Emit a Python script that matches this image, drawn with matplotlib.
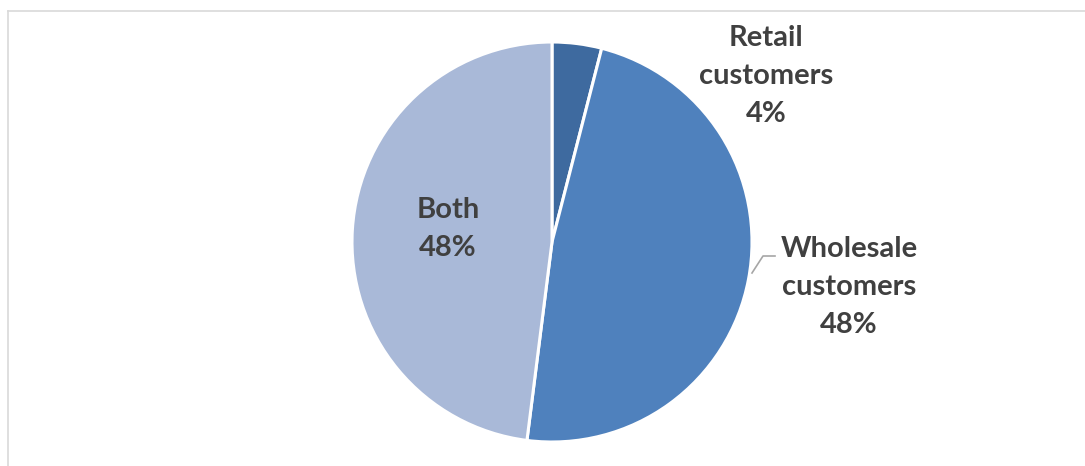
import matplotlib
matplotlib.use("Agg")
import matplotlib.pyplot as plt
from matplotlib.lines import Line2D

# Customer mix
categories = ["Retail customers", "Wholesale customers", "Both"]
label_lines = [["Retail", "customers"], ["Wholesale", "customers"], ["Both"]]
shares = [4, 48, 48]
colors = ["#3E6A9F", "#4F81BD", "#A9B9D8"]

W, H = 1085, 466
fig = plt.figure(figsize=(W / 100, H / 100), dpi=100)
ax = fig.add_axes([0, 0, 1, 1])
ax.set_xlim(0, W)
ax.set_ylim(0, H)
ax.set_aspect("equal")
ax.axis("off")

cx, cy, r = 552, H - 242, 200
ax.pie(shares, colors=colors, startangle=90, counterclock=False,
       center=(cx, cy), radius=r,
       wedgeprops=dict(edgecolor="white", linewidth=2.2))
ax.set_xlim(0, W)
ax.set_ylim(0, H)

# chart frame (top and left edges)
frame = "#D9D9D9"
fig.add_artist(Line2D([8 / W, 1], [1 - 11 / H, 1 - 11 / H], color=frame, lw=1.2))
fig.add_artist(Line2D([8 / W, 8 / W], [0, 1 - 11 / H], color=frame, lw=1.2))

label_pos = [(766, 76), (849, 287), (448, 229)]
txt_kw = dict(ha="center", va="center", fontsize=21, fontweight="bold",
              color="#404040", family=["Lato", "DejaVu Sans"], linespacing=1.58)
for lines, val, (x, y) in zip(label_lines, shares, label_pos):
    ax.text(x, H - y, "\n".join(lines + [f"{val}%"]), **txt_kw)

# leader line for the wholesale label
ax.plot([752, 763, 775], [H - 273, H - 256, H - 256], color="#A6A6A6", lw=1.2)

fig.savefig("out.png", dpi=100)
